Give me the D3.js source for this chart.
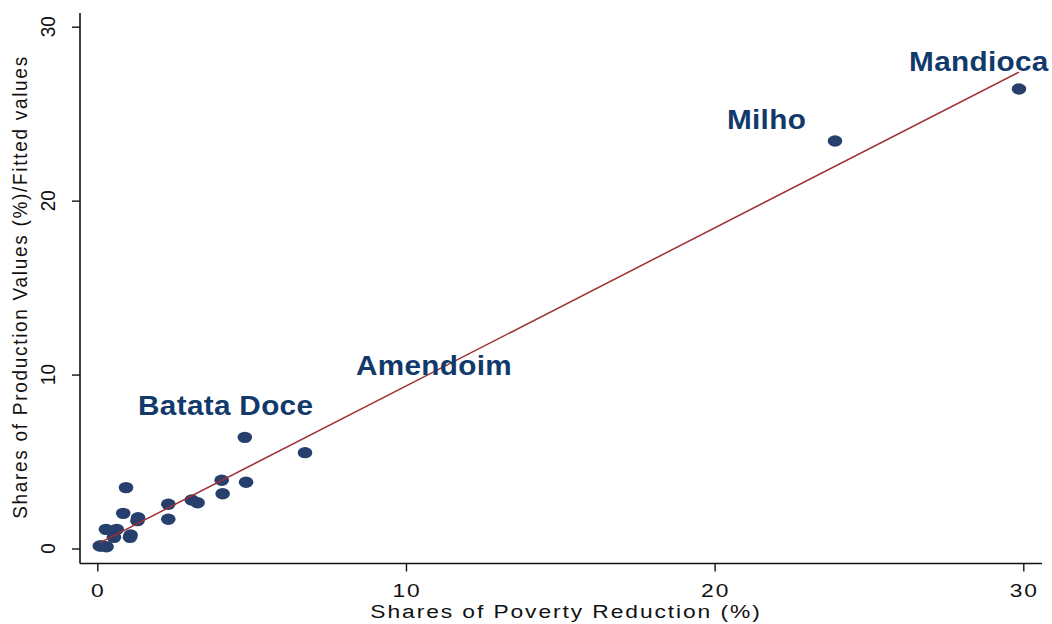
<!DOCTYPE html>
<html>
<head>
<meta charset="utf-8">
<script src="https://cdn.jsdelivr.net/npm/d3@7/dist/d3.min.js"></script>
<style>
  html, body { margin: 0; padding: 0; background: #ffffff; }
  svg { display: block; font-family: Arial, "Liberation Sans", Helvetica, sans-serif; }
</style>
</head>
<body>
<svg id="chart" width="1052" height="624"></svg>
<script>
// Shares of poverty reduction (x, %) vs shares of production values (y, %), one point per crop
const povertyShare = [4.78, 6.73, 0.93, 4.03, 4.82, 4.06, 3.06, 3.25, 2.30, 2.30, 0.84, 1.32, 1.30,
                      0.28, 0.63, 0.54, 1.08, 1.06, 0.14, 0.30, 0.08, 23.90, 29.86];
const productionShare = [6.39, 5.51, 3.50, 3.92, 3.81, 3.15, 2.79, 2.63, 2.54, 1.68, 2.02, 1.77, 1.60,
                         1.10, 1.10, 0.64, 0.78, 0.64, 0.14, 0.10, 0.14, 23.43, 26.42];

// Linear fit (fitted values)
const fitIntercept = 0.25;
const fitSlope = 0.909;

// Crop labels and their anchor positions in data units
const cropLabels = ["Mandioca", "Milho", "Amendoim", "Batata Doce"];
const labelX = [26.30, 20.40, 8.38, 1.32];
const labelY = [27.46, 24.12, 10.00, 7.70];

const xTicks = [0, 10, 20, 30];
const yTicks = [0, 10, 20, 30];

const svg = d3.select("#chart");

const x = d3.scaleLinear().domain([0, 30]).range([97.3, 1023.3]);
const y = d3.scaleLinear().domain([0, 30]).range([548.5, 26.7]);

const axisX = 80, axisY = 563.5;
const axisColor = "#111111";

// Axis lines
svg.append("line")
  .attr("x1", axisX).attr("x2", axisX)
  .attr("y1", 13).attr("y2", axisY)
  .attr("stroke", axisColor).attr("stroke-width", 1.6);
svg.append("line")
  .attr("x1", axisX).attr("x2", 1042)
  .attr("y1", axisY).attr("y2", axisY)
  .attr("stroke", axisColor).attr("stroke-width", 1.6);

// Y axis ticks
const gy = svg.append("g").attr("transform", `translate(${axisX},0)`)
  .call(d3.axisLeft(y).tickValues(yTicks).tickSize(8).tickFormat(""));
gy.select(".domain").remove();
gy.selectAll(".tick line").attr("stroke", axisColor).attr("stroke-width", 1.4);

// Y tick labels, rotated
svg.append("g").selectAll("text").data(yTicks).join("text")
  .attr("transform", d => `translate(55,${y(d)}) scale(1.1,1) rotate(-90)`)
  .attr("text-anchor", "middle")
  .attr("font-size", 19)
  .attr("fill", "#111")
  .text(d => d);

// X axis ticks
const gx = svg.append("g").attr("transform", `translate(0,${axisY})`)
  .call(d3.axisBottom(x).tickValues(xTicks).tickSize(8).tickFormat(""));
gx.select(".domain").remove();
gx.selectAll(".tick line").attr("stroke", axisColor).attr("stroke-width", 1.4);

// X tick labels
svg.append("g").selectAll("text").data(xTicks).join("text")
  .attr("transform", d => `translate(${x(d) + 1},597) scale(1.2,1)`)
  .attr("text-anchor", "middle")
  .attr("font-size", 19)
  .attr("letter-spacing", 1.6)
  .attr("fill", "#111")
  .text(d => d);

// Axis titles
svg.append("text")
  .attr("transform", "translate(566,617.5) scale(1.2,1)")
  .attr("text-anchor", "middle")
  .attr("font-size", 19)
  .attr("letter-spacing", 1.6)
  .attr("fill", "#111")
  .text("Shares of Poverty Reduction (%)");

svg.append("text")
  .attr("transform", "translate(27,287) scale(1.1,1) rotate(-90)")
  .attr("text-anchor", "middle")
  .attr("font-size", 19)
  .attr("letter-spacing", 1.7)
  .attr("fill", "#111")
  .text("Shares of Production Values (%)/Fitted values");

// Scatter points
const pts = povertyShare.map((v, i) => ({ px: v, py: productionShare[i] }));
svg.append("g").selectAll("ellipse").data(pts).join("ellipse")
  .attr("cx", d => x(d.px))
  .attr("cy", d => y(d.py))
  .attr("rx", 7.3)
  .attr("ry", 5.7)
  .attr("fill", "#273f6c");

// Fitted line over the range of x
const [xMin, xMax] = d3.extent(povertyShare);
svg.append("line")
  .attr("x1", x(xMin)).attr("y1", y(fitIntercept + fitSlope * xMin))
  .attr("x2", x(xMax)).attr("y2", y(fitIntercept + fitSlope * xMax))
  .attr("stroke", "#9e2f33").attr("stroke-width", 1.5);

// Crop labels
svg.append("g").selectAll("text").data(cropLabels).join("text")
  .attr("transform", (d, i) => `translate(${x(labelX[i])},${y(labelY[i])}) scale(1.1,1)`)
  .attr("font-size", 27)
  .attr("font-weight", "bold")
  .attr("letter-spacing", 0.3)
  .attr("fill", "#113a6b")
  .text(d => d);
</script>
</body>
</html>
